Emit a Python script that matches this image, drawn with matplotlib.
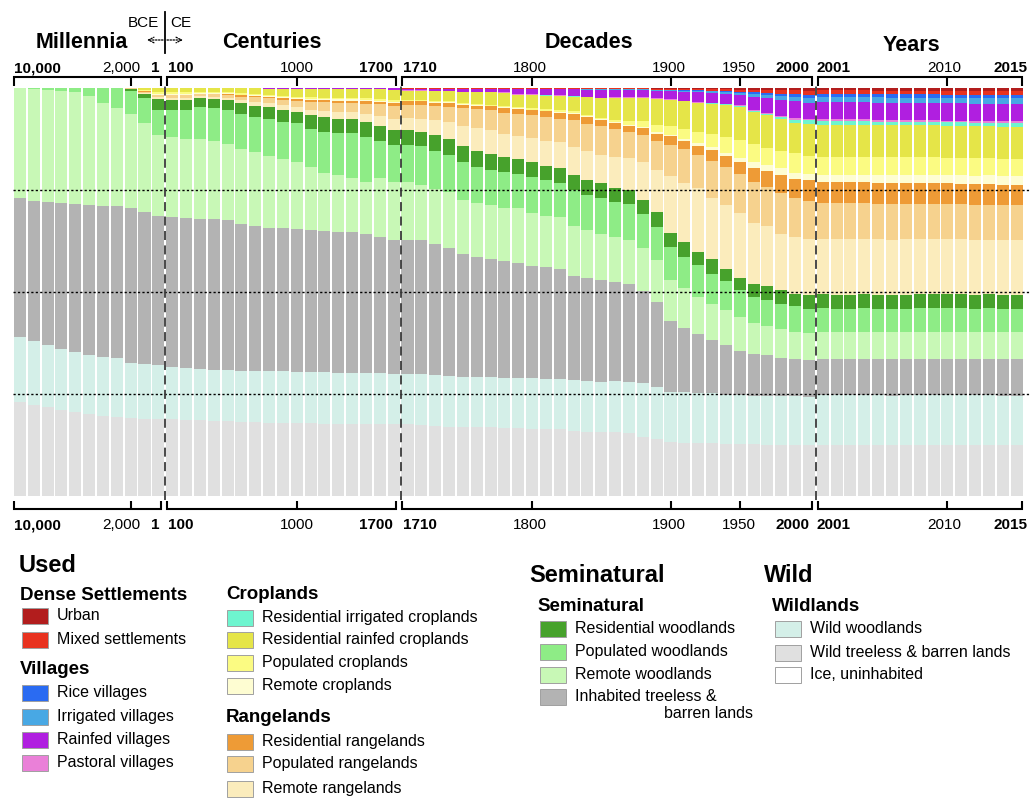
import numpy as np
import matplotlib
matplotlib.use("Agg")
import matplotlib.pyplot as plt
from matplotlib.patches import Rectangle
from matplotlib.transforms import blended_transform_factory

plt.rcParams['font.family'] = ['Liberation Sans', 'DejaVu Sans']

# ---------------- periods (categories) ----------------
millennia = ["10,000 BCE", "9,000 BCE", "8,000 BCE", "7,000 BCE", "6,000 BCE", "5,000 BCE",
             "4,000 BCE", "3,000 BCE", "2,000 BCE", "1,000 BCE", "1 CE"]
centuries = ["100", "200", "300", "400", "500", "600", "700", "800", "900", "1000",
             "1100", "1200", "1300", "1400", "1500", "1600", "1700"]
decades = ["1710", "1720", "1730", "1740", "1750", "1760", "1770", "1780", "1790", "1800",
           "1810", "1820", "1830", "1840", "1850", "1860", "1870", "1880", "1890", "1900",
           "1910", "1920", "1930", "1940", "1950", "1960", "1970", "1980", "1990", "2000"]
years = ["2001", "2002", "2003", "2004", "2005", "2006", "2007", "2008", "2009", "2010",
         "2011", "2012", "2013", "2014", "2015"]
periods = millennia + centuries + decades + years

# ---------------- anthrome shares (% of land) ----------------
# order inside each list: millennia | centuries | decades 1710-1850 | decades 1860-2000 | years
urban = ([0]*11 + [0]*17 +
         [0, 0, 0, 0, 0.05, 0.05, 0.05, 0.05, 0.05, 0.05, 0.05, 0.05, 0.05, 0.05, 0.05] +
         [0.1, 0.1, 0.1, 0.15, 0.15, 0.25, 0.25, 0.25, 0.3, 0.4, 0.45, 0.5, 0.55, 0.6, 0.65] +
         [0.6, 0.6, 0.6, 0.6, 0.65, 0.65, 0.65, 0.65, 0.65, 0.7, 0.7, 0.7, 0.7, 0.7, 0.7])
mixed_settlements = ([0]*11 + [0]*16 + [0.1] +
         [0.15, 0.15, 0.15, 0.15, 0.15, 0.15, 0.15, 0.15, 0.2, 0.2, 0.2, 0.2, 0.2, 0.2, 0.2] +
         [0.15, 0.15, 0.15, 0.25, 0.25, 0.35, 0.35, 0.4, 0.5, 0.6, 0.65, 0.7, 0.85, 0.8, 0.95] +
         [0.8, 0.8, 0.8, 0.8, 0.85, 0.85, 0.85, 0.85, 0.85, 0.9, 0.9, 0.9, 0.9, 0.9, 0.9])
rice_villages = ([0]*11 + [0]*17 +
         [0]*13 + [0.05, 0.05] +
         [0.05, 0.05, 0.05, 0.1, 0.1, 0.1, 0.15, 0.2, 0.25, 0.3, 0.4, 0.5, 0.65, 0.75, 0.8] +
         [0.8, 0.8, 0.8, 0.8, 0.8, 0.85, 0.85, 0.85, 0.85, 0.85, 0.85, 0.9, 0.9, 0.9, 0.9])
irrigated_villages = ([0]*11 +
         [0, 0, 0, 0, 0, 0.1, 0.1, 0, 0, 0, 0, 0, 0, 0, 0, 0.1, 0] +
         [0.05, 0.05, 0.05, 0.05, 0.05, 0.05, 0.05, 0.1, 0.1, 0.1, 0.1, 0.1, 0.1, 0.1, 0.15] +
         [0.15, 0.15, 0.15, 0.2, 0.25, 0.3, 0.35, 0.4, 0.45, 0.35, 0.6, 0.7, 0.95, 1.15, 1.2] +
         [1.3]*15)
rainfed_villages = ([0]*11 +
         [0, 0, 0, 0, 0, 0, 0, 0.15, 0.2, 0.2, 0.2, 0.2, 0.2, 0.2, 0.2, 0.2, 0.3] +
         [0.35, 0.35, 0.5, 0.5, 0.65, 0.65, 0.65, 0.8, 1.15, 1.15, 1.35, 1.45, 1.6, 1.7, 1.9] +
         [1.8, 1.8, 1.8, 1.8, 2.05, 2.1, 2.4, 2.4, 2.4, 2.6, 3.4, 3.7, 3.75, 4.1, 3.9] +
         [4.1, 4.1, 4.1, 4.1, 4.15, 4.15, 4.15, 4.15, 4.2, 4.2, 4.2, 4.2, 4.25, 4.3, 4.3])
pastoral_villages = ([0]*11 + [0]*16 + [0.1] +
         [0.1]*15 +
         [0.1, 0.1, 0.1, 0.1, 0.1, 0.1, 0.1, 0.1, 0.1, 0.15, 0.2, 0.3, 0.4, 0.45, 0.4] +
         [0.5, 0.5, 0.5, 0.5, 0.5, 0.5, 0.45, 0.45, 0.45, 0.45, 0.45, 0.45, 0.4, 0.4, 0.4])
res_irrigated_crop = ([0]*11 + [0]*16 + [0.1] +
         [0.05]*9 + [0.1]*6 +
         [0.1]*9 + [0.15, 0.2, 0.3, 0.4, 0.65, 0.8] +
         [0.8]*13 + [0.9, 0.9])
res_rainfed_crop = ([0, 0, 0, 0, 0, 0, 0, 0, 0.1, 0.5, 1.1] +
         [1.1, 1.1, 0.9, 0.9, 1.0, 1.2, 1.4, 1.6, 1.8, 2.0, 2.1, 2.2, 2.2, 2.2, 2.3, 2.3, 2.3] +
         [2.25, 2.25, 2.4, 2.4, 2.7, 2.85, 3.0, 3.2, 3.0, 3.3, 3.3, 3.5, 3.6, 4.2, 4.7] +
         [5.3, 5.7, 5.7, 6.3, 6.4, 6.8, 7.0, 7.35, 7.9, 8.2, 7.8, 8.0, 7.8, 7.5, 7.8] +
         [7.8, 7.8, 7.8, 7.8, 7.8, 7.8, 7.8, 7.75, 7.75, 7.75, 7.75, 7.8, 7.8, 7.8, 7.8])
populated_crop = ([0, 0, 0, 0, 0, 0, 0, 0, 0, 0.2, 0.3] +
         [0.3, 0.3, 0.25, 0.3, 0.3, 0.3, 0.3, 0.3, 0.3, 0.3, 0.4, 0.4, 0.4, 0.4, 0.4, 0.5, 0.5] +
         [0.2, 0.2, 0.25, 0.25, 0.25, 0.3, 0.3, 0.3, 0.3, 0.3, 0.35, 0.35, 0.4, 0.45, 0.4] +
         [0.65, 0.85, 1.3, 1.8, 2.0, 2.35, 2.8, 3.3, 3.8, 4.3, 4.3, 4.1, 4.25, 4.75, 4.5] +
         [4.5, 4.5, 4.5, 4.45, 4.45, 4.4, 4.4, 4.35, 4.35, 4.3, 4.3, 4.3, 4.25, 4.2, 4.2])
remote_crop = ([0, 0, 0, 0, 0, 0, 0, 0, 0, 0.1, 0.2] +
         [0.2]*12 + [0.3]*5 +
         [0.1, 0.1, 0.1, 0.1, 0.1, 0.1, 0.15, 0.15, 0.15, 0.15, 0.15, 0.15, 0.2, 0.15, 0.1] +
         [0.15, 0.2, 0.3, 0.4, 0.45, 0.55, 0.7, 0.8, 0.95, 1.0, 1.6, 1.6, 1.6, 1.4, 1.6] +
         [1.6, 1.65, 1.7, 1.75, 1.8, 1.85, 1.9, 1.95, 2.0, 2.0, 2.05, 2.1, 2.15, 2.2, 2.2])
res_range = ([0, 0, 0, 0, 0, 0, 0, 0, 0, 0.1, 0.2] +
         [0.2, 0.2, 0.15, 0.15, 0.2, 0.3, 0.3, 0.3, 0.4, 0.4, 0.5, 0.5, 0.5, 0.5, 0.6, 0.6, 0.6] +
         [1.0, 1.0, 0.8, 1.0, 0.8, 0.9, 1.0, 1.1, 1.15, 1.2, 1.4, 1.5, 1.6, 1.6, 1.6] +
         [1.6, 1.55, 1.8, 1.9, 2.0, 2.0, 2.2, 2.7, 2.6, 3.1, 3.3, 3.8, 4.5, 4.65, 5.1] +
         [5.2, 5.2, 5.2, 5.15, 5.1, 5.1, 5.1, 5.05, 5.05, 5.05, 5.0, 5.0, 5.0, 5.0, 5.0])
populated_range = ([0, 0, 0, 0, 0, 0, 0, 0, 0.05, 0.3, 0.5] +
         [0.6, 0.6, 0.5, 0.6, 0.7, 0.9, 1.1, 1.2, 1.3, 1.6, 1.9, 2.1, 2.2, 2.2, 2.5, 2.9, 3.2] +
         [3.1, 3.3, 3.4, 3.8, 4.3, 4.7, 4.9, 5.3, 5.4, 5.5, 5.8, 5.8, 6.4, 6.7, 7.0] +
         [6.7, 6.5, 6.5, 7.0, 7.8, 8.3, 8.2, 9.0, 9.2, 9.6, 10.2, 9.65, 10.0, 9.65, 9.3] +
         [8.8, 8.8, 8.75, 8.7, 8.7, 8.7, 8.65, 8.65, 8.6, 8.6, 8.6, 8.55, 8.5, 8.5, 8.5])
remote_range = ([0, 0, 0, 0, 0, 0, 0, 0, 0.1, 0.2, 0.4] +
         [0.5, 0.5, 0.45, 0.45, 0.6, 0.7, 0.9, 1.0, 1.1, 1.2, 1.4, 1.6, 1.7, 1.7, 2.0, 2.3, 2.7] +
         [2.9, 3.2, 3.75, 4.1, 5.1, 5.5, 5.7, 5.6, 5.7, 6.0, 6.1, 6.3, 7.05, 7.05, 6.9] +
         [7.6, 7.8, 9.2, 10.4, 13.9, 14.5, 15.5, 15.0, 15.8, 15.8, 15.0, 14.7, 13.7, 14.0, 13.7] +
         [13.5, 13.5, 13.5, 13.5, 13.45, 13.45, 13.45, 13.4, 13.4, 13.4, 13.4, 13.35, 13.35, 13.3, 13.3])
res_woodlands = ([0, 0, 0, 0, 0, 0, 0, 0, 0.6, 1.05, 2.6] +
         [2.6, 2.6, 2.2, 2.3, 2.5, 2.7, 2.7, 2.8, 3.0, 2.7, 3.3, 3.6, 3.5, 3.5, 3.7, 3.7, 3.7] +
         [3.7, 3.5, 3.85, 3.85, 3.9, 3.9, 3.9, 3.7, 3.7, 3.7, 3.4, 3.7, 3.5, 3.7, 3.7] +
         [3.5, 3.3, 3.5, 3.5, 3.5, 3.5, 3.3, 3.6, 3.0, 3.0, 3.0, 3.3, 3.4, 2.9, 3.3] +
         [3.4]*15)
populated_woodlands = ([0.0, 0.3, 0.4, 0.7, 0.9, 1.9, 3.7, 4.8, 5.5, 6.1, 6.1] +
         [6.5, 7.0, 7.8, 8.2, 8.3, 8.6, 8.8, 9.1, 9.1, 9.4, 9.3, 10.0, 10.2, 11.0, 10.9, 9.1, 9.0] +
         [9.0, 9.4, 9.4, 9.2, 9.1, 8.8, 8.6, 8.8, 8.3, 8.7, 8.8, 8.4, 8.8, 8.6, 8.75] +
         [8.5, 8.8, 8.3, 8.3, 8.1, 7.7, 7.8, 7.35, 7.1, 6.7, 6.5, 6.5, 6.2, 6.3, 5.9] +
         [5.7]*15)
remote_woodlands = ([27.0, 27.3, 27.5, 27.5, 27.5, 26.7, 25.1, 24.0, 23.0, 21.9, 19.9] +
         [19.6, 19.4, 19.5, 19.0, 18.6, 18.3, 18.1, 17.6, 17.0, 16.5, 15.4, 14.3, 14.0, 13.2, 12.9, 14.6, 14.3] +
         [14.3, 13.7, 13.3, 13.6, 13.4, 13.3, 13.3, 13.0, 13.4, 12.9, 12.6, 12.5, 12.2, 11.9, 11.3] +
         [11.0, 10.9, 10.5, 10.2, 9.9, 9.7, 9.2, 8.8, 8.5, 8.3, 7.6, 7.1, 7.0, 6.7, 6.6] +
         [6.7]*15)
inhabited_treeless = ([34.1, 34.4, 35.0, 35.7, 36.3, 36.7, 37.1, 37.4, 37.8, 37.2, 36.6] +
         [36.8, 36.8, 36.8, 36.9, 36.7, 36.0, 35.4, 35.2, 35.0, 35.0, 34.8, 34.5, 34.5, 34.5, 34.1, 33.3, 32.8] +
         [32.8, 32.8, 32.1, 31.4, 29.9, 29.4, 28.9, 28.5, 28.3, 27.5, 27.3, 27.0, 25.6, 25.1, 24.9] +
         [24.4, 23.9, 22.4, 20.8, 17.4, 15.8, 14.3, 13.0, 12.1, 10.7, 10.2, 9.9, 9.4, 9.1, 8.9] +
         [8.8]*15)
wild_woodlands = ([15.9, 15.7, 15.3, 15.0, 14.6, 14.6, 14.5, 14.5, 13.6, 13.3, 13.2] +
         [12.7, 12.7, 12.6, 12.6, 12.5, 12.6, 12.6, 12.6, 12.6, 12.6, 12.6, 12.6, 12.5, 12.5, 12.4, 12.4, 12.3] +
         [12.3, 12.5, 12.4, 12.4, 12.3, 12.3, 12.3, 12.3, 12.25, 12.35, 12.3, 12.4, 12.35, 12.4, 12.3] +
         [12.45, 12.6, 13.2, 12.8, 12.2, 12.4, 12.4, 12.4, 12.0, 12.0, 11.8, 11.9, 11.9, 11.9, 11.8] +
         [12.0]*15)
wild_treeless = ([23.0, 22.3, 21.7, 21.1, 20.7, 20.0, 19.6, 19.3, 19.0, 18.9, 18.9] +
         [18.8, 18.6, 18.5, 18.4, 18.3, 18.1, 18.1, 18.0, 17.9, 17.8, 17.8, 17.7, 17.7, 17.6, 17.6, 17.6, 17.6] +
         [17.6, 17.3, 17.2, 17.0, 16.9, 16.8, 16.8, 16.7, 16.6, 16.5, 16.4, 16.3, 16.0, 15.8, 15.7] +
         [15.6, 15.4, 14.5, 14.0, 13.3, 13.0, 12.9, 12.9, 12.8, 12.75, 12.7, 12.6, 12.6, 12.5, 12.5] +
         [12.5]*15)

# stacking order: bottom -> top
layers = [
    ("Wild treeless & barren lands", wild_treeless, "#e0e0e0"),
    ("Wild woodlands", wild_woodlands, "#d4efe8"),
    ("Inhabited treeless & barren lands", inhabited_treeless, "#b3b3b3"),
    ("Remote woodlands", remote_woodlands, "#c8f8b6"),
    ("Populated woodlands", populated_woodlands, "#8eec86"),
    ("Residential woodlands", res_woodlands, "#47a22c"),
    ("Remote rangelands", remote_range, "#fbecbc"),
    ("Populated rangelands", populated_range, "#f6d28e"),
    ("Residential rangelands", res_range, "#ee9b36"),
    ("Remote croplands", remote_crop, "#fefdd2"),
    ("Populated croplands", populated_crop, "#fbfb82"),
    ("Residential rainfed croplands", res_rainfed_crop, "#e5e548"),
    ("Residential irrigated croplands", res_irrigated_crop, "#6ef5cf"),
    ("Pastoral villages", pastoral_villages, "#ea80d8"),
    ("Rainfed villages", rainfed_villages, "#b01fe0"),
    ("Irrigated villages", irrigated_villages, "#48a8e4"),
    ("Rice villages", rice_villages, "#2a6bf2"),
    ("Mixed settlements", mixed_settlements, "#e8321f"),
    ("Urban", urban, "#b21d1d"),
]
colors = {name: c for name, _, c in layers}
colors["Ice, uninhabited"] = "#ffffff"

values = np.array([v for _, v, _ in layers], dtype=float)
shares = values / values.sum(axis=0) * 100.0

# ---------------- figure ----------------
W, H = 1033, 798
fig = plt.figure(figsize=(W / 100, H / 100), dpi=100)
L_PX, R_PX, T_PX, B_PX = 13.0, 1023.5, 88.0, 496.0
ax = fig.add_axes([L_PX / W, 1 - B_PX / H, (R_PX - L_PX) / W, (B_PX - T_PX) / H])
x = np.arange(len(periods))
bottom = np.zeros(len(periods))
for (name, _, c), s in zip(layers, shares):
    ax.bar(x, s, width=0.87, bottom=bottom, color=c, linewidth=0, zorder=1)
    bottom += s
ax.set_xlim(-0.5, len(periods) - 0.5)
ax.set_ylim(0, 100)
ax.axis("off")

tr = blended_transform_factory(ax.transData, ax.transAxes)
def ay(py):
    return (B_PX - py) / (B_PX - T_PX)
def dx_of(px):
    return (px - L_PX) / ((R_PX - L_PX) / len(periods)) - 0.5

# dotted quartile lines
for yv in (25, 50, 75):
    ax.plot([-0.5, dx_of(1030)], [yv, yv], color="black", lw=1.0,
            ls=(0, (1.6, 1.6)), clip_on=False, zorder=4)

# segment boundaries (dashed)
seg_lens = [len(millennia), len(centuries), len(decades), len(years)]
starts = np.cumsum([0] + seg_lens[:-1])
ends = starts + np.array(seg_lens) - 1
for b in starts[1:]:
    ax.plot([b - 0.5, b - 0.5], [ay(500), ay(84)], transform=tr, color="#3a3a3a",
            lw=1.3, ls=(0, (5, 3)), clip_on=False, zorder=5)

# BCE | CE marker
ax.plot([starts[1] - 0.5] * 2, [ay(12), ay(53)], transform=tr, color="black", lw=1.3, clip_on=False)
ax.text(dx_of(159), ay(27), "BCE", transform=tr, ha="right", va="baseline", fontsize=11)
ax.text(dx_of(170), ay(27), "CE", transform=tr, ha="left", va="baseline", fontsize=11)
ax.annotate("", xy=(dx_of(147), ay(40)), xytext=(dx_of(163), ay(40)), xycoords=tr, textcoords=tr,
            arrowprops=dict(arrowstyle="->", lw=0.9, ls=(0, (1.2, 1.2)), shrinkA=0, shrinkB=0))
ax.annotate("", xy=(dx_of(183), ay(40)), xytext=(dx_of(167), ay(40)), xycoords=tr, textcoords=tr,
            arrowprops=dict(arrowstyle="->", lw=0.9, ls=(0, (1.2, 1.2)), shrinkA=0, shrinkB=0))

# segment titles
titles = [("Millennia", 82, 48), ("Centuries", 272, 48), ("Decades", 589, 48), ("Years", 911, 51)]
for t, px, py in titles:
    ax.text(dx_of(px), ay(py), t, transform=tr, ha="center", va="baseline",
            fontsize=15.5, fontweight="bold")

# brackets
inner_ticks = [periods.index("2,000 BCE"), periods.index("1000"), periods.index("1800"),
               periods.index("1900"), periods.index("1950"), periods.index("2010")]
bracket_ends = [(starts[0] - 0.42, ends[0] + 0.2), (starts[1] - 0.4, ends[1] + 0.2),
                (starts[2] - 0.38, ends[2] + 0.25), (starts[3] - 0.38, ends[3] + 0.4)]
for line_py, tick_py in ((76.5, 86), (509, 500.5)):
    for a, b in bracket_ends:
        ax.plot([a, a, b, b], [ay(tick_py), ay(line_py), ay(line_py), ay(tick_py)], transform=tr,
                color="black", lw=1.5, clip_on=False, solid_joinstyle="miter", solid_capstyle="butt")
    for t in inner_ticks:
        ax.plot([t, t], [ay(line_py), ay(tick_py)], transform=tr, color="black", lw=1.5,
                clip_on=False, solid_capstyle="butt")

# axis labels above and below
tick_labels = [("10,000", "10,000 BCE", "left", True, -0.43),
               ("2,000", "2,000 BCE", "center", False, -0.7),
               ("1", "1 CE", "right", True, 0.06),
               ("100", "100", "left", True, -0.3),
               ("1000", "1000", "center", False, 0.0),
               ("1700", "1700", "right", True, -0.03),
               ("1710", "1710", "left", True, -0.33),
               ("1800", "1800", "center", False, -0.15),
               ("1900", "1900", "center", False, -0.1),
               ("1950", "1950", "center", False, -0.06),
               ("2000", "2000", "right", True, 0.02),
               ("2001", "2001", "left", True, -0.45),
               ("2010", "2010", "center", False, -0.2),
               ("2015", "2015", "right", True, 0.8)]
for text, key, ha, bold, off in tick_labels:
    xi = periods.index(key) + off
    for py in (72.5, 529):
        ax.text(xi, ay(py), text, transform=tr, ha=ha, va="baseline", fontsize=11,
                fontweight="bold" if bold else "normal")

# ---------------- legend ----------------
ov = fig.add_axes([0, 0, 1, 1])
ov.set_xlim(0, W)
ov.set_ylim(H, 0)
ov.axis("off")
ov.patch.set_alpha(0)

def head(px, py, s, size):
    ov.text(px, py + size * 0.36, s, fontsize=size, fontweight="bold", ha="left", va="baseline")

def item(sx, py, name, label=None, tx=None):
    ov.add_patch(Rectangle((sx, py - 8), 26, 16, facecolor=colors[name],
                           edgecolor="#a0a0a0", lw=0.7))
    ov.text(sx + 35 if tx is None else tx, py + 4.3, name if label is None else label,
            fontsize=11.5, ha="left", va="baseline")

head(19, 566, "Used", 17)
head(20, 595, "Dense Settlements", 13.5)
item(22, 616, "Urban")
item(22, 640, "Mixed settlements")
head(20, 669, "Villages", 13.5)
for name, py in (("Rice villages", 693), ("Irrigated villages", 716.5),
                 ("Rainfed villages", 739.5), ("Pastoral villages", 762.5)):
    item(22, py, name)

head(226, 594, "Croplands", 13.5)
for name, py in (("Residential irrigated croplands", 617.5), ("Residential rainfed croplands", 640),
                 ("Populated croplands", 663), ("Remote croplands", 686)):
    item(227, py, name)
head(226, 717.5, "Rangelands", 13.5)
for name, py in (("Residential rangelands", 741.5), ("Populated rangelands", 764),
                 ("Remote rangelands", 788.5)):
    item(227, py, name)

head(529, 576, "Seminatural", 17)
head(537, 606.5, "Seminatural", 13.5)
for name, py in (("Residential woodlands", 629), ("Populated woodlands", 652),
                 ("Remote woodlands", 675)):
    item(540, py, name)
item(540, 697, "Inhabited treeless & barren lands", label="Inhabited treeless &")
ov.text(753, 714 + 4.3, "barren lands", fontsize=11.5, ha="right", va="baseline")

head(764, 576, "Wild", 17)
head(772, 606.5, "Wildlands", 13.5)
for name, py in (("Wild woodlands", 629), ("Wild treeless & barren lands", 652.5),
                 ("Ice, uninhabited", 675)):
    item(775, py, name)

fig.savefig("out.png", dpi=100)
